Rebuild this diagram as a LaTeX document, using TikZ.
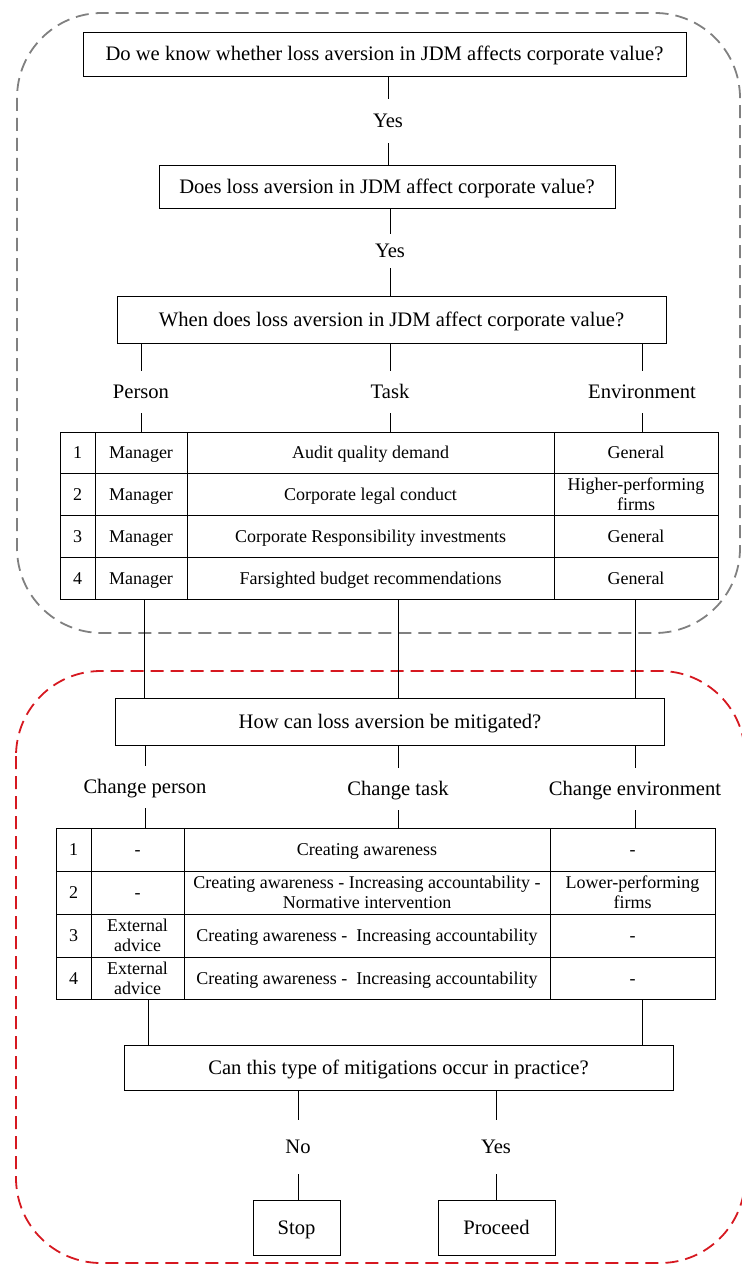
\documentclass[tikz,border=0pt]{standalone}
\usepackage{fontspec}
\setmainfont{Liberation Serif}
\definecolor{zgray}{RGB}{128,128,128}
\definecolor{zred}{RGB}{214,24,32}
\begin{document}
\begin{tikzpicture}[x=1pt,y=-1pt,
  conn/.style={line width=0.8pt},
  qbox/.style={draw, line width=0.9pt, inner sep=0pt, text height=14.4pt, text depth=0.6pt, font=\fontsize{20.6}{24}\selectfont},
  lbl/.style={inner sep=0pt, text height=14.4pt, text depth=0.6pt, font=\fontsize{20.6}{24}\selectfont},
  cell/.style={inner sep=0pt, text height=12.5pt, text depth=0.5pt, font=\fontsize{18}{20}\selectfont},
  cellm/.style={inner sep=0pt, align=center, font=\fontsize{18}{20}\selectfont},
  tbl/.style={draw, line width=0.9pt, inner sep=0pt},
  grid/.style={line width=0.9pt},
  grayzone/.style={draw=zgray, line width=1.8pt, dash pattern=on 13pt off 7pt, rounded corners=85pt},
  redzone/.style={draw=zred, line width=1.8pt, dash pattern=on 13pt off 7pt, rounded corners=85pt},
]
\useasboundingbox (0,0) rectangle (741,1265);

% zones
\draw[grayzone] (17,13) rectangle (740,633);
\draw[redzone] (16,671) rectangle (745,1263);

% top questions
\node[qbox, minimum width=603pt, minimum height=44pt] (b1) at (384.5,54) {Do we know whether loss aversion in JDM affects corporate value?};
\node[lbl, minimum height=44pt] (y1) at (388,121) {Yes};
\node[qbox, minimum width=456pt, minimum height=43pt] (b2) at (387,186.5) {Does loss aversion in JDM affect corporate value?};
\node[lbl, minimum height=34pt] (y2) at (390,251) {Yes};
\node[qbox, minimum width=549pt, minimum height=47pt] (b3) at (391.5,319.5) {When does loss aversion in JDM affect corporate value?};

\draw[conn] (b1.south -| y1) -- (y1.north);
\draw[conn] (y1.south) -- (y1.south |- b2.north);
\draw[conn] (b2.south -| y2) -- (y2.north);
\draw[conn] (y2.south) -- (y2.south |- b3.north);

% labels person/task/environment
\node[lbl, minimum height=42pt] (lp) at (141,392) {Person};
\node[lbl, minimum height=42pt] (lt) at (390,392) {Task};
\node[lbl, minimum height=42pt] (le) at (642,392) {Environment};

% table 1
\node[tbl, minimum width=658pt, minimum height=167pt] (t1) at (389,515.5) {};
\draw[grid] (95,432) -- (95,599) (187,432) -- (187,599) (554,432) -- (554,599);
\draw[grid] (60,473) -- (718,473) (60,515) -- (718,515) (60,557) -- (718,557);

\foreach \n in {lp,lt,le}{
  \draw[conn] (b3.south -| \n) -- (\n.north);
  \draw[conn] (\n.south) -- (\n.south |- t1.north);
}

\node[cell] (a11) at (77.5,452.5) {1};
\node[cell] (a12) at (141,452.5) {Manager};
\node[cell] (a13) at (370.5,452.5) {Audit quality demand};
\node[cell] (a14) at (636,452.5) {General};
\node[cell] (a21) at (77.5,494) {2};
\node[cell] (a22) at (141,494) {Manager};
\node[cell] (a23) at (370.5,494) {Corporate legal conduct};
\node[cellm] (a24) at (636,494) {Higher-performing\\firms};
\node[cell] (a31) at (77.5,536) {3};
\node[cell] (a32) at (141,536) {Manager};
\node[cell] (a33) at (370.5,536) {Corporate Responsibility investments};
\node[cell] (a34) at (636,536) {General};
\node[cell] (a41) at (77.5,578) {4};
\node[cell] (a42) at (141,578) {Manager};
\node[cell] (a43) at (370.5,578) {Farsighted budget recommendations};
\node[cell] (a44) at (636,578) {General};

% mitigation question
\node[qbox, minimum width=549pt, minimum height=47pt] (b4) at (390,721.5) {How can loss aversion be mitigated?};
\coordinate (k1) at (144,0);
\coordinate (k2) at (398,0);
\coordinate (k3) at (635,0);
\foreach \k in {k1,k2,k3}{
  \draw[conn] (t1.south -| \k) -- (b4.north -| \k);
}

\node[lbl, minimum height=42pt] (mp) at (145,787) {Change person};
\node[lbl, minimum height=42pt] (mt) at (398,789) {Change task};
\node[lbl, minimum height=42pt] (me) at (635,789) {Change environment};

% table 2
\node[tbl, minimum width=659pt, minimum height=171pt] (t2) at (385.5,913.5) {};
\draw[grid] (91,828) -- (91,999) (184,828) -- (184,999) (550,828) -- (550,999);
\draw[grid] (56,871) -- (715,871) (56,914) -- (715,914) (56,957) -- (715,957);

\foreach \n in {mp,mt,me}{
  \draw[conn] (b4.south -| \n) -- (\n.north);
  \draw[conn] (\n.south) -- (\n.south |- t2.north);
}

\node[cell] (c11) at (73.5,849.5) {1};
\node[cell] (c12) at (137.5,849.5) {-};
\node[cell] (c13) at (367,849.5) {Creating awareness};
\node[cell] (c14) at (632.5,849.5) {-};
\node[cell] (c21) at (73.5,892.5) {2};
\node[cell] (c22) at (137.5,892.5) {-};
\node[cellm] (c23) at (367,892.5) {Creating awareness - Increasing accountability -\\Normative intervention};
\node[cellm] (c24) at (632.5,892.5) {Lower-performing\\firms};
\node[cell] (c31) at (73.5,935.5) {3};
\node[cellm] (c32) at (137.5,935.5) {External\\advice};
\node[cell] (c33) at (367,935.5) {Creating awareness -\ \ Increasing accountability};
\node[cell] (c34) at (632.5,935.5) {-};
\node[cell] (c41) at (73.5,978) {4};
\node[cellm] (c42) at (137.5,978) {External\\advice};
\node[cell] (c43) at (367,978) {Creating awareness -\ \ Increasing accountability};
\node[cell] (c44) at (632.5,978) {-};

% practice question
\node[qbox, minimum width=549pt, minimum height=45pt] (b5) at (398.5,1067.5) {Can this type of mitigations occur in practice?};
\coordinate (q1) at (148,0);
\coordinate (q2) at (642,0);
\foreach \k in {q1,q2}{
  \draw[conn] (t2.south -| \k) -- (b5.north -| \k);
}

\node[lbl, minimum height=54pt] (no) at (298,1147) {No};
\node[lbl, minimum height=54pt] (ys) at (496,1147) {Yes};
\node[qbox, minimum width=87pt, minimum height=55pt] (stop) at (296.5,1227.5) {Stop};
\node[qbox, minimum width=117pt, minimum height=55pt] (proc) at (496.5,1227.5) {Proceed};

\foreach \n/\m in {no/stop,ys/proc}{
  \draw[conn] (b5.south -| \n) -- (\n.north);
  \draw[conn] (\n.south) -- (\n.south |- \m.north);
}
\end{tikzpicture}
\end{document}
